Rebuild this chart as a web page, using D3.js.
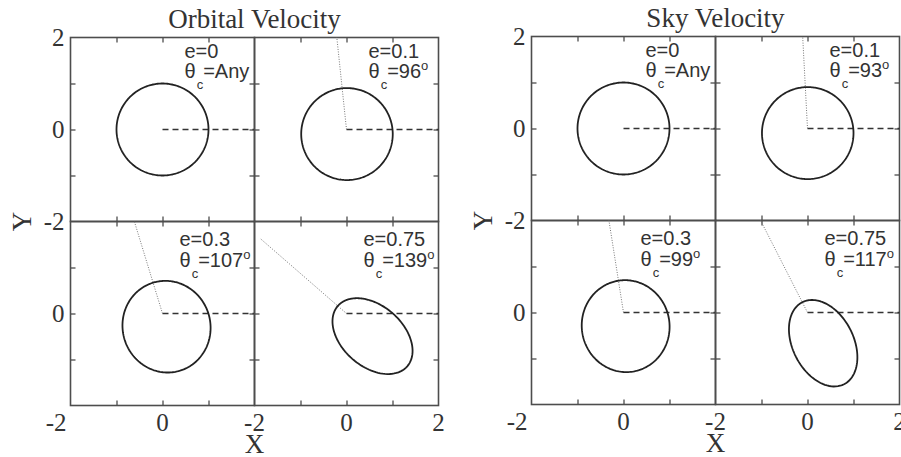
<!DOCTYPE html>
<html>
<head>
<meta charset="utf-8">
<script src="https://cdn.jsdelivr.net/npm/d3@7"></script>
<style>
  body { margin: 0; background: #fff; }
  svg { display: block; }
</style>
</head>
<body>
<div id="chart"></div>
<script>
// chart values
var panelTitles = ["Orbital Velocity", "Sky Velocity"];
var eccLabels = ["0", "0.1", "0.3", "0.75"];
var eccValues = [0, 0.1, 0.3, 0.75];
var orbitalTheta = [null, 96, 107, 139];   // theta_c, degrees (null = Any)
var skyTheta = [null, 93, 99, 117];
var thetaSets = [orbitalTheta, skyTheta];
var tickValues = [-1, 0, 1];
var yLabelsTopRow = [2, 0, -2];
var yLabelsBottomRow = [0];
var xLabelsLeftCol = [-2, 0];
var xLabelsRightCol = [-2, 0, 2];
var semiMajor = 1;
var periLineLen = 2.5;

var W = 901, H = 457;
var cell = 184;
var panelOrigins = [[70.5, 37.5], [531.5, 36.5]];

var svg = d3.select("#chart").append("svg")
    .attr("width", W).attr("height", H);

var frameColor = "#4d4d4d";
var serif = "'Liberation Serif', 'Times New Roman', serif";
var sans = "'Liberation Sans', Arial, sans-serif";

function orbitPoints(e, thetaDeg) {
    var th = (thetaDeg == null ? 0 : thetaDeg) * Math.PI / 180;
    var pts = [];
    for (var k = 0; k <= 240; k++) {
        var nu = k / 240 * 2 * Math.PI;
        var r = semiMajor * (1 - e * e) / (1 + e * Math.cos(nu));
        pts.push([r * Math.cos(th + nu), r * Math.sin(th + nu)]);
    }
    return pts;
}

panelOrigins.forEach(function (orig, p) {
    var px = orig[0], py = orig[1];
    var g = svg.append("g");

    // title
    g.append("text")
        .attr("x", px + cell).attr("y", py - 10)
        .attr("text-anchor", "middle")
        .style("font-family", serif).style("font-size", "27px").style("fill", "#333")
        .text(panelTitles[p]);

    for (var i = 0; i < 4; i++) {
        var row = Math.floor(i / 2), col = i % 2;
        var x0 = px + col * cell, y0 = py + row * cell;
        var xs = d3.scaleLinear().domain([-2, 2]).range([x0, x0 + cell]);
        var ys = d3.scaleLinear().domain([-2, 2]).range([y0 + cell, y0]);
        var sub = g.append("g");
        var clipId = "clip" + p + "_" + i;

        sub.append("clipPath").attr("id", clipId)
            .append("rect").attr("x", x0).attr("y", y0).attr("width", cell).attr("height", cell);

        // inward ticks on all four sides
        var axes = [
            [d3.axisTop(xs), "translate(0," + y0 + ")"],
            [d3.axisBottom(xs), "translate(0," + (y0 + cell) + ")"],
            [d3.axisLeft(ys), "translate(" + x0 + ",0)"],
            [d3.axisRight(ys), "translate(" + (x0 + cell) + ",0)"]
        ];
        axes.forEach(function (a) {
            var ax = sub.append("g").attr("transform", a[1])
                .call(a[0].tickValues(tickValues).tickSize(-5).tickFormat(""));
            ax.select(".domain").remove();
            ax.selectAll("line").attr("stroke", frameColor).attr("stroke-width", 1.3);
        });

        sub.append("rect")
            .attr("x", x0).attr("y", y0).attr("width", cell).attr("height", cell)
            .attr("fill", "none").attr("stroke", frameColor).attr("stroke-width", 1.6);

        var e = eccValues[i], th = thetaSets[p][i];

        // reference direction (dashed)
        sub.append("line")
            .attr("x1", xs(0)).attr("y1", ys(0)).attr("x2", xs(2)).attr("y2", ys(0))
            .attr("stroke", "#333").attr("stroke-width", 1.4)
            .attr("stroke-dasharray", "6,4");

        // periapsis direction (dotted)
        if (th != null) {
            var rad = th * Math.PI / 180;
            sub.append("line")
                .attr("clip-path", "url(#" + clipId + ")")
                .attr("x1", xs(0)).attr("y1", ys(0))
                .attr("x2", xs(periLineLen * Math.cos(rad)))
                .attr("y2", ys(periLineLen * Math.sin(rad)))
                .attr("stroke", "#777").attr("stroke-width", 1)
                .attr("stroke-dasharray", "1,1.5");
        }

        var line = d3.line().x(function (d) { return xs(d[0]); }).y(function (d) { return ys(d[1]); });
        sub.append("path")
            .attr("d", line(orbitPoints(e, th)))
            .attr("fill", "none").attr("stroke", "#222").attr("stroke-width", 1.8);

        // annotation
        var tx = x0 + (row == 0 ? 114 : 109);
        var b1 = y0 + (row == 0 ? 20.5 : 24.5);
        var b2 = y0 + (row == 0 ? 40 : 45.5);
        var ann = sub.append("g").style("font-family", sans).style("fill", "#333");
        ann.append("text").attr("x", tx).attr("y", b1)
            .style("font-size", "20px").text("e=" + eccLabels[i]);
        var t2 = ann.append("text").attr("x", tx).attr("y", b2).style("font-size", "20px");
        t2.append("tspan").text("θ");
        t2.append("tspan").attr("dy", 11).attr("dx", 1).style("font-size", "13px").text("c");
        t2.append("tspan").attr("dy", -11).text(th == null ? "=Any" : "=" + th);
        if (th != null) {
            t2.append("tspan").attr("dy", -8).style("font-size", "13px").text("o");
        }

        // tick labels
        if (col == 0) {
            var yl = row == 0 ? yLabelsTopRow : yLabelsBottomRow;
            yl.forEach(function (v) {
                g.append("text")
                    .attr("x", x0 - 6).attr("y", ys(v)).attr("dy", "0.35em")
                    .attr("text-anchor", "end")
                    .style("font-family", serif).style("font-size", "25px").style("fill", "#333")
                    .text(v);
            });
        }
        if (row == 1) {
            var xl = col == 0 ? xLabelsLeftCol : xLabelsRightCol;
            xl.forEach(function (v, j) {
                var first = (col == 0 && j == 0);
                g.append("text")
                    .attr("x", first ? xs(v) - 4 : xs(v)).attr("y", y0 + cell + 25)
                    .attr("text-anchor", first ? "end" : "middle")
                    .style("font-family", serif).style("font-size", "25px").style("fill", "#333")
                    .text(v);
            });
        }
    }

    // axis titles
    g.append("text")
        .attr("x", px + cell).attr("y", py + 2 * cell + 47)
        .attr("text-anchor", "middle")
        .style("font-family", serif).style("font-size", "27px").style("fill", "#333")
        .text("X");
    g.append("text")
        .attr("transform", "translate(" + (px - 40) + "," + (py + cell) + ") rotate(-90)")
        .attr("text-anchor", "middle")
        .style("font-family", serif).style("font-size", "27px").style("fill", "#333")
        .text("Y");
});
</script>
</body>
</html>
